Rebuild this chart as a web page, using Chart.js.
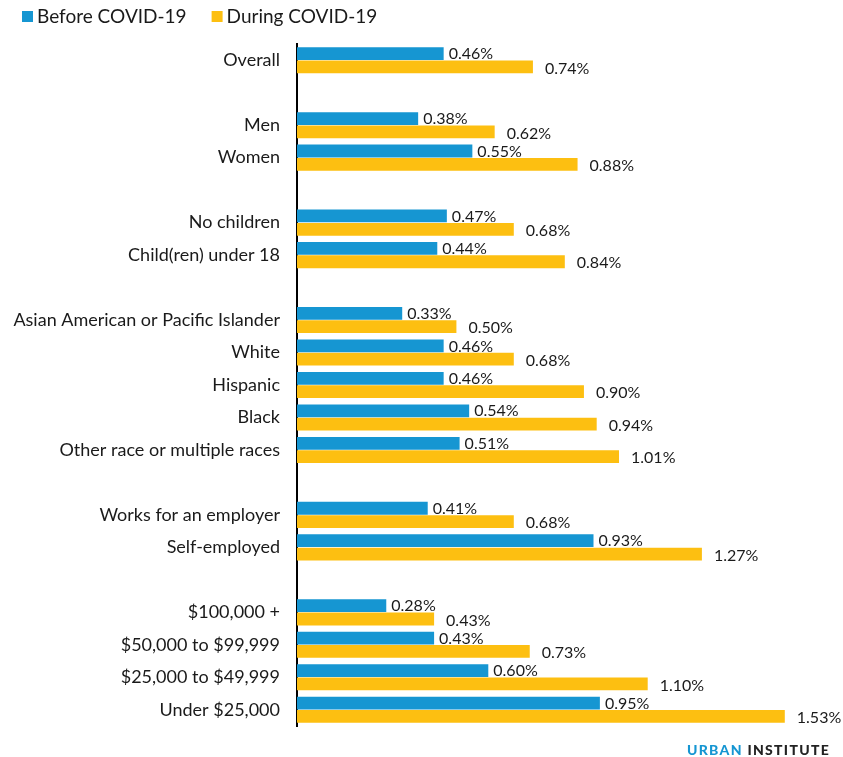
<!DOCTYPE html>
<html>
<head>
<meta charset="utf-8">
<script src="https://cdn.jsdelivr.net/npm/chart.js@4"></script>
<style>
  body { margin: 0; background: #fff; }
  #wrap { position: relative; width: 843px; height: 757px; }
  #brand {
    position: absolute; right: 13px; top: 741px;
    font: 900 14px Lato, sans-serif; letter-spacing: 1.3px;
    color: #222;
  }
  #brand span { color: #1696d2; }
</style>
</head>
<body>
<div id="wrap">
  <canvas id="myChart"></canvas>
  <div id="brand"><span>URBAN</span> INSTITUTE</div>
</div>
<script>
// Empty strings are spacer rows between groups
const categories = [
  'Overall', '',
  'Men', 'Women', '',
  'No children', 'Child(ren) under 18', '',
  'Asian American or Pacific Islander', 'White', 'Hispanic', 'Black', 'Other race or multiple races', '',
  'Works for an employer', 'Self-employed', '',
  '$100,000 +', '$50,000 to $99,999', '$25,000 to $49,999', 'Under $25,000'
];
const before = [
  0.46, null,
  0.38, 0.55, null,
  0.47, 0.44, null,
  0.33, 0.46, 0.46, 0.54, 0.51, null,
  0.41, 0.93, null,
  0.28, 0.43, 0.60, 0.95
];
const during = [
  0.74, null,
  0.62, 0.88, null,
  0.68, 0.84, null,
  0.50, 0.68, 0.90, 0.94, 1.01, null,
  0.68, 1.27, null,
  0.43, 0.73, 1.10, 1.53
];
const seriesNames = ['Before COVID-19', 'During COVID-19'];
const colors = ['#1696d2', '#fdbf11'];

const FONT = 'Lato, sans-serif';

// Percent labels at the end of each bar (drawn under the bars so they can tuck in)
const barLabels = {
  id: 'barLabels',
  beforeDatasetsDraw(chart) {
    const ctx = chart.ctx;
    ctx.save();
    ctx.font = '16px ' + FONT;
    ctx.fillStyle = '#1a1a1a';
    ctx.textBaseline = 'middle';
    ctx.textAlign = 'left';
    chart.data.datasets.forEach((ds, i) => {
      const meta = chart.getDatasetMeta(i);
      meta.data.forEach((bar, j) => {
        const v = ds.data[j];
        if (v == null) return;
        const dx = i === 0 ? 5 : 12;
        const dy = i === 0 ? 0.5 : 1.5;
        ctx.fillText(v.toFixed(2) + '%', bar.x + dx, bar.y + dy);
      });
    });
    ctx.restore();
  }
};

// Square-swatch legend across the top left
const topLegend = {
  id: 'topLegend',
  afterDraw(chart) {
    const ctx = chart.ctx;
    ctx.save();
    ctx.font = '19px ' + FONT;
    ctx.textBaseline = 'middle';
    let x = 22;
    const y = 16.5;
    chart.data.datasets.forEach(ds => {
      ctx.fillStyle = ds.backgroundColor;
      ctx.fillRect(x, y - 5.5, 11, 11);
      ctx.fillStyle = '#1a1a1a';
      ctx.fillText(ds.label, x + 15, y);
      x += 15 + ctx.measureText(ds.label).width + 25;
    });
    ctx.restore();
  }
};

const ctx = document.getElementById('myChart').getContext('2d');
const myChart = new Chart(ctx, {
  type: 'bar',
  data: {
    labels: categories,
    datasets: [
      { label: seriesNames[0], data: before, backgroundColor: colors[0] },
      { label: seriesNames[1], data: during, backgroundColor: colors[1] }
    ]
  },
  options: {
    indexAxis: 'y',
    responsive: true,
    maintainAspectRatio: false,
    animation: false,
    categoryPercentage: 0.82,
    barPercentage: 0.96,
    layout: { padding: { top: 44, bottom: 31, right: 4, left: 0 } },
    plugins: {
      legend: { display: false },
      tooltip: { enabled: false }
    },
    scales: {
      x: {
        display: false,
        min: 0,
        max: 1.7
      },
      y: {
        afterFit(scale) { scale.width = 297; },
        grid: { display: false, drawTicks: false },
        border: { display: true, color: '#000', width: 2 },
        ticks: {
          padding: 17,
          color: '#1a1a1a',
          autoSkip: false,
          font: { family: FONT, size: 18 }
        }
      }
    }
  },
  plugins: [barLabels, topLegend]
});
</script>
</body>
</html>
